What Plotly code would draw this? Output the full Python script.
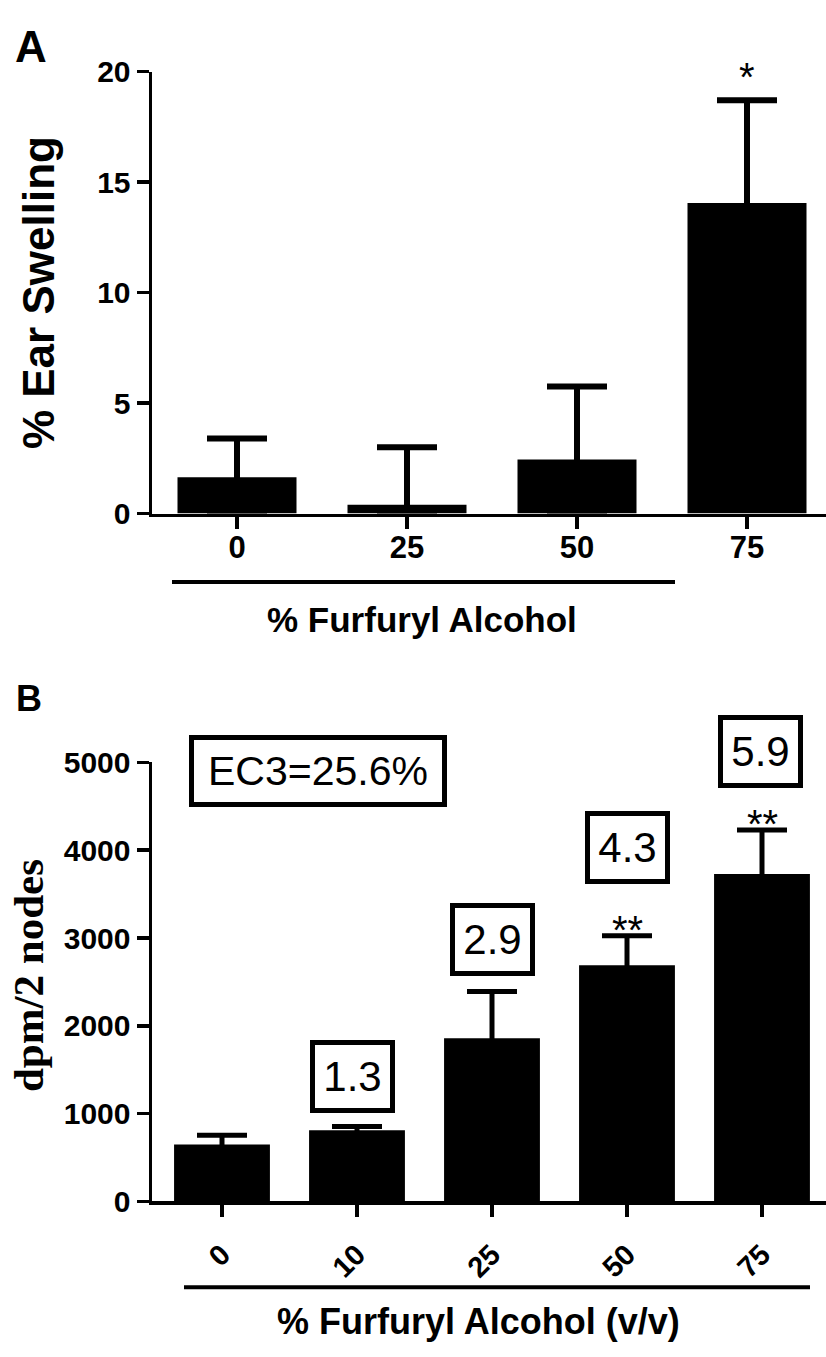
import plotly.graph_objects as go

# ---------------- data ----------------
cats_a = ["0", "25", "50", "75"]
mean_a = [1.65, 0.4, 2.45, 14.05]
sem_a = [1.75, 2.6, 3.3, 4.65]
sig_a = ["", "", "", "*"]

cats_b = ["0", "10", "25", "50", "75"]
mean_b = [650, 810, 1860, 2690, 3730]
sem_b = [105, 45, 530, 335, 500]
sig_b = ["", "", "", "**", "**"]
fold_b = ["", "1.3", "2.9", "4.3", "5.9"]
ec3_label = "EC3=25.6%"

yticks_a = [0, 5, 10, 15, 20]
yticks_b = [0, 1000, 2000, 3000, 4000, 5000]

# ---------------- layout helpers (page pixels -> paper) ----------------
W, H = 826, 1357


def px(x):
    return x / W


def py(y):
    return 1 - y / H


SANS = "Liberation Sans, Arial, Helvetica, sans-serif"
SERIF = "Liberation Serif, Times New Roman, serif"

fig = go.Figure()

fig.add_trace(go.Bar(
    x=cats_a, y=mean_a, width=0.7, marker=dict(color="black", line=dict(width=0)),
    error_y=dict(type="data", array=sem_a, arrayminus=[min(s, m) for s, m in zip(sem_a, mean_a)],
                 symmetric=False, color="black", thickness=6, width=30),
    xaxis="x", yaxis="y", showlegend=False, hoverinfo="skip"))

fig.add_trace(go.Bar(
    x=cats_b, y=mean_b, width=0.71, marker=dict(color="black", line=dict(width=0)),
    error_y=dict(type="data", array=sem_b, arrayminus=[min(s, m) for s, m in zip(sem_b, mean_b)],
                 symmetric=False, color="black", thickness=5, width=25),
    xaxis="x2", yaxis="y2", showlegend=False, hoverinfo="skip"))

axis_common = dict(showline=True, linecolor="black", linewidth=3.5, ticks="outside",
                   tickcolor="black", tickwidth=3.5, ticklen=12, showgrid=False,
                   zeroline=False, fixedrange=True)

plot_w = W - 152
fig.update_layout(
    width=W, height=H, autosize=False,
    margin=dict(l=0, r=0, t=0, b=0),
    paper_bgcolor="white", plot_bgcolor="white",
    xaxis=dict(domain=[px(152), 1], range=[-0.5, -0.5 + plot_w / 170], type="category",
               ticklabelstandoff=-8,
               tickfont=dict(family=SANS, size=31, color="black", weight="bold"),
               anchor="y", **axis_common),
    yaxis=dict(domain=[py(510), py(57)], range=[0, 20], tickvals=yticks_a,
               tickfont=dict(family=SANS, size=30, color="black", weight="bold"),
               anchor="x", **axis_common),
    xaxis2=dict(domain=[px(152), 1], range=[-0.5185, -0.5185 + plot_w / 135], type="category",
                tickangle=-45, ticklabelstandoff=9,
                tickfont=dict(family=SANS, size=29, color="black", weight="bold"),
                anchor="y2", **axis_common),
    yaxis2=dict(domain=[py(1215), py(765)], range=[0, 5000], tickvals=yticks_b,
                tickfont=dict(family=SANS, size=30, color="black", weight="bold"),
                anchor="x2", **axis_common),
)

ann = []


def paper_text(text, x, y, size, family=SANS, bold=True, angle=0):
    ann.append(dict(text=text, x=px(x), y=py(y), xref="paper", yref="paper",
                    xanchor="center", yanchor="middle", showarrow=False, textangle=angle,
                    font=dict(family=family, size=size, color="black",
                              weight="bold" if bold else "normal")))


# panel letters and axis titles
paper_text("A", 31, 31, 44)
paper_text("B", 29, 700, 36)
paper_text("% Ear Swelling", 38, 284, 44, angle=-90)
paper_text("% Furfuryl Alcohol", 422, 619, 35)
paper_text("dpm/2 nodes", 28, 984, 43, family=SERIF, angle=-90)
paper_text("% Furfuryl Alcohol (v/v)", 478, 1338, 36)

# significance stars
for i, (m, s, t) in enumerate(zip(mean_a, sem_a, sig_a)):
    if t:
        ann.append(dict(text=t, x=i, y=m + s, xref="x", yref="y", showarrow=False,
                        xanchor="center", yanchor="middle", yshift=23,
                        font=dict(family=SANS, size=40, color="black")))
for i, (m, s, t) in enumerate(zip(mean_b, sem_b, sig_b)):
    if t:
        ann.append(dict(text=t, x=i, y=m + s, xref="x2", yref="y2", showarrow=False,
                        xanchor="center", yanchor="middle", yshift=6,
                        font=dict(family=SANS, size=40, color="black")))

# fold-change boxes (pixel offsets above the error bar tops)
box_yshift = [0, 50, 52, 88, 79]
box_xshift = [0, -5, 0, 0, -2]
for i, (m, s, t) in enumerate(zip(mean_b, sem_b, fold_b)):
    if t:
        ann.append(dict(text=t, x=i, y=m + s, xref="x2", yref="y2", showarrow=False,
                        yanchor="middle", xanchor="center",
                        yshift=box_yshift[i], xshift=box_xshift[i],
                        width=75, height=63, borderpad=0, borderwidth=5,
                        bordercolor="black", bgcolor="white",
                        font=dict(family=SANS, size=42, color="black")))
ann.append(dict(text=ec3_label, x=px(318), y=py(774), xref="paper", yref="paper",
                xanchor="center", yanchor="middle",
                showarrow=False, width=248, height=62, borderpad=0, borderwidth=5,
                bordercolor="black", bgcolor="white",
                font=dict(family=SANS, size=41, color="black")))

fig.update_layout(annotations=ann)

# bracket lines under the x axes
fig.add_shape(type="line", xref="paper", yref="paper", x0=px(172), x1=px(675),
              y0=py(580), y1=py(580), line=dict(color="black", width=4))
fig.add_shape(type="line", xref="paper", yref="paper", x0=px(184), x1=px(810),
              y0=py(1303), y1=py(1303), line=dict(color="black", width=4))

# pin the figure to the top-left corner of the page (no default body margin)
page_js = """
document.documentElement.style.margin = '0';
document.body.style.margin = '0';
document.body.style.overflow = 'hidden';
var gd = document.getElementById('{plot_id}');
gd.style.position = 'fixed';
gd.style.left = '0px';
gd.style.top = '0px';
"""

fig.write_html("out.html", post_script=page_js,
               config={"displayModeBar": False, "staticPlot": True})
